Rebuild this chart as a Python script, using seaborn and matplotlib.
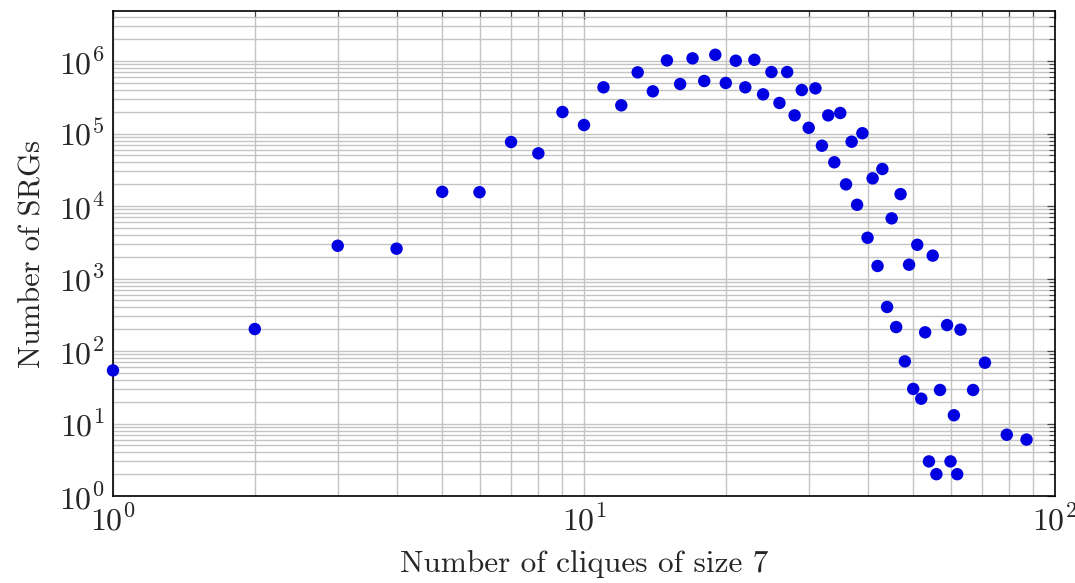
import matplotlib
matplotlib.use("Agg")
import matplotlib.pyplot as plt
import matplotlib.ticker as mticker
import numpy as np
import pandas as pd
import seaborn as sns

# Data
cliques = [1, 2, 3, 4, 5, 6, 7, 8, 9, 10,
           11, 12, 13, 14, 15, 16, 17, 18, 19, 20,
           21, 22, 23, 24, 25, 26, 27, 28, 29, 30,
           31, 32, 33, 34, 35, 36, 37, 38, 39, 40,
           41, 42, 43, 44, 45, 46, 47, 48, 49, 50,
           51, 52, 53, 54, 55, 56, 57, 59, 60, 61,
           62, 63, 67, 71, 79, 87]
srgs = [54, 201, 2830, 2580, 15700, 15500, 76400, 53300, 198000, 131000,
        434000, 245000, 698000, 382000, 1020000, 482000, 1090000, 530000, 1220000, 498000,
        1010000, 434000, 1040000, 347000, 705000, 264000, 705000, 178000, 398000, 120000,
        420000, 67900, 178000, 40100, 192000, 19900, 77100, 10400, 101000, 3650,
        24100, 1490, 32400, 405, 6760, 214, 14600, 72, 1550, 30,
        2920, 22, 181, 3, 2070, 2, 29, 228, 3, 13,
        2, 197, 29, 69, 7, 6]

x_label = "Number of cliques of size 7"
y_label = "Number of SRGs"

df = pd.DataFrame({"cliques": cliques, "srgs": srgs})

sns.set_style("white")
plt.rcParams["font.family"] = ["cmr10", "DejaVu Serif"]
plt.rcParams["mathtext.fontset"] = "cm"
plt.rcParams["axes.formatter.use_mathtext"] = True

fig = plt.figure(figsize=(10.75, 5.83), dpi=100)
ax = fig.add_axes([113 / 1075, 1 - 496 / 583, (1055 - 113) / 1075, (496 - 11) / 583])

sns.scatterplot(data=df, x="cliques", y="srgs", ax=ax, color="#0000E0",
                s=80, edgecolor="none", zorder=3, clip_on=False)

ax.set_xscale("log")
ax.set_yscale("log")
ax.set_xlim(1, 100)
ax.set_ylim(1, 4.9e6)

ax.xaxis.set_major_locator(mticker.LogLocator(base=10, numticks=10))
ax.yaxis.set_major_locator(mticker.LogLocator(base=10, numticks=10))
ax.xaxis.set_minor_locator(mticker.LogLocator(base=10, subs=np.arange(2, 10), numticks=20))
ax.yaxis.set_minor_locator(mticker.LogLocator(base=10, subs=np.arange(2, 10), numticks=20))
fmt = mticker.FuncFormatter(lambda v, p: r"$10^{%d}$" % int(round(np.log10(v))))
ax.xaxis.set_major_formatter(fmt)
ax.yaxis.set_major_formatter(fmt)
ax.xaxis.set_minor_formatter(mticker.NullFormatter())
ax.yaxis.set_minor_formatter(mticker.NullFormatter())

ax.grid(True, which="major", color="#c4c4c4", linewidth=1.0, zorder=0)
ax.grid(True, which="minor", color="#c4c4c4", linewidth=1.0, zorder=0)
ax.set_axisbelow(True)

ax.tick_params(which="both", direction="in", top=True, right=True, color="#444444")
ax.tick_params(which="major", length=6, width=0.9, labelsize=23, pad=6)
ax.tick_params(which="minor", length=4, width=0.8)

for sp in ax.spines.values():
    sp.set_color("black")
    sp.set_linewidth(1.2)

ax.set_xlabel(x_label, fontsize=22.5, labelpad=10)
ax.set_ylabel(y_label, fontsize=22, labelpad=9)

fig.savefig("out.png", dpi=100)
